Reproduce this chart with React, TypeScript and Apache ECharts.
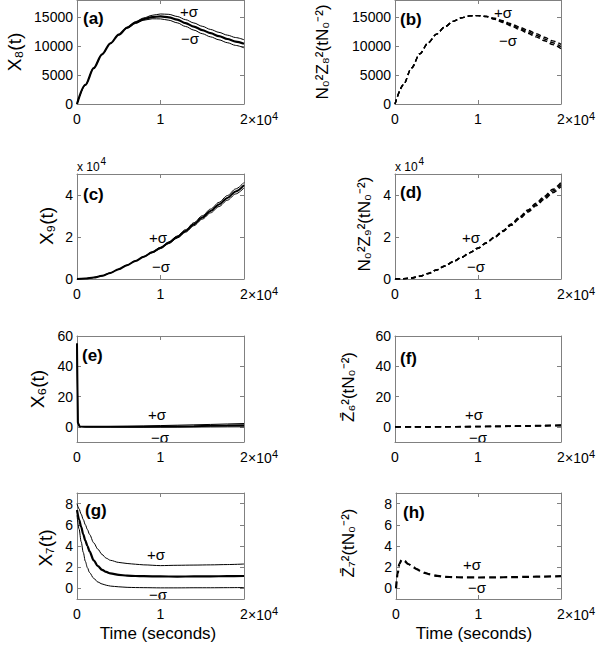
import React, { useEffect, useRef } from "react";
import * as echarts from "echarts";

// ---------- data ----------
const timeTicks = [0, 10000, 20000];
const ticksAB = [0, 5000, 10000, 15000];
const ticksCD = [0, 20000, 40000];
const ticksEF = [0, 20, 40, 60];
const ticksGH = [0, 2, 4, 6, 8];

const tA = [0, 1000, 2000, 3000, 4000, 5000, 6000, 7000, 8000, 9000, 10000, 11000, 12000, 13000, 14000, 15000, 16000, 17000, 18000, 19000, 20000];
const aMean = [0, 3300, 6200, 8600, 10500, 12000, 13200, 14100, 14700, 15050, 15150, 15000, 14600, 14000, 13400, 12800, 12250, 11750, 11250, 10800, 10430];
const aUpper = [0, 3300, 6200, 8600, 10520, 12060, 13300, 14250, 14900, 15350, 15580, 15520, 15150, 14600, 14020, 13450, 12900, 12400, 11920, 11500, 11120];
const aLower = [0, 3300, 6200, 8600, 10480, 11940, 13100, 13950, 14500, 14750, 14730, 14500, 14050, 13420, 12790, 12170, 11620, 11110, 10610, 10140, 9720];

const bMid = [0, 3300, 6250, 8700, 10600, 12100, 13350, 14300, 14900, 15250, 15300, 15150, 14750, 14250, 13700, 13100, 12500, 11900, 11250, 10600, 9950];
const bUpper = [0, 3300, 6250, 8700, 10600, 12100, 13350, 14300, 14900, 15250, 15300, 15180, 14850, 14400, 13880, 13320, 12750, 12180, 11560, 10930, 10320];
const bLower = [0, 3300, 6250, 8700, 10600, 12100, 13350, 14300, 14900, 15250, 15300, 15120, 14650, 14100, 13520, 12880, 12250, 11620, 10940, 10270, 9580];

const cMean = [0, 200, 700, 1500, 2900, 4700, 6600, 8600, 10600, 12700, 14800, 17300, 20000, 22900, 26100, 29300, 32400, 35500, 38600, 41700, 44700];
const cUpper = [0, 200, 700, 1500, 2900, 4700, 6600, 8600, 10700, 12900, 15100, 17700, 20500, 23500, 26800, 30100, 33300, 36500, 39700, 42900, 46000];
const cLower = [0, 200, 700, 1500, 2900, 4700, 6600, 8600, 10500, 12500, 14500, 16900, 19500, 22300, 25400, 28500, 31500, 34500, 37500, 40500, 43400];

const dMid = [0, 100, 500, 1300, 2600, 4300, 6200, 8200, 10300, 12500, 14700, 17200, 19900, 22800, 25900, 29100, 32300, 35500, 38700, 41900, 45000];
const dUpper = [0, 100, 500, 1300, 2600, 4300, 6200, 8200, 10300, 12500, 14700, 17200, 20000, 23000, 26200, 29500, 32800, 36100, 39400, 42700, 46000];
const dLower = [0, 100, 500, 1300, 2600, 4300, 6200, 8200, 10300, 12500, 14700, 17200, 19800, 22600, 25600, 28700, 31800, 34900, 38000, 41100, 44100];

const tE = [0, 100, 300, 1000, 2000, 4000, 6000, 8000, 10000, 12000, 14000, 16000, 18000, 20000];
const eMean = [55, 3, 0.3, 0, 0, 0, 0.05, 0.1, 0.2, 0.3, 0.45, 0.65, 0.85, 1.1];
const eUpper = [55, 3, 0.3, 0.1, 0.15, 0.25, 0.4, 0.6, 0.85, 1.1, 1.35, 1.6, 1.9, 2.2];
const eLower = [55, 3, 0.3, 0, -0.1, -0.15, -0.2, -0.2, -0.2, -0.15, -0.1, -0.05, 0, 0.05];

const tF = [0, 2000, 4000, 6000, 8000, 10000, 12000, 14000, 16000, 18000, 20000];
const fMid = [0, 0, 0, 0.05, 0.1, 0.2, 0.3, 0.45, 0.6, 0.8, 1.0];
const fUpper = [0, 0, 0.05, 0.1, 0.2, 0.3, 0.45, 0.6, 0.8, 1.0, 1.25];
const fLower = [0, 0, -0.05, 0, 0, 0.1, 0.15, 0.3, 0.4, 0.6, 0.75];

const tG = [0, 250, 500, 750, 1000, 1250, 1500, 2000, 2500, 3000, 3500, 4000, 5000, 6000, 7000, 8000, 10000, 12000, 14000, 16000, 18000, 20000];
const gUpper = [8.0, 7.5, 7.0, 6.5, 6.0, 5.55, 5.1, 4.3, 3.7, 3.2, 2.85, 2.65, 2.45, 2.35, 2.28, 2.22, 2.15, 2.18, 2.2, 2.22, 2.25, 2.3];
const gMean = [7.4, 6.5, 5.8, 5.1, 4.5, 4.0, 3.5, 2.65, 2.1, 1.75, 1.55, 1.42, 1.28, 1.2, 1.17, 1.15, 1.13, 1.12, 1.13, 1.14, 1.15, 1.17];
const gLower = [6.9, 5.6, 4.4, 3.4, 2.55, 1.95, 1.5, 0.95, 0.6, 0.42, 0.3, 0.22, 0.15, 0.1, 0.08, 0.07, 0.05, 0.05, 0.06, 0.06, 0.07, 0.08];

const tH = [0, 200, 400, 700, 1000, 1500, 2000, 2500, 3000, 3500, 4000, 5000, 6000, 7000, 8000, 10000, 12000, 14000, 16000, 18000, 20000];
const hMid = [0, 1.4, 2.3, 2.7, 2.6, 2.3, 2.05, 1.82, 1.62, 1.46, 1.34, 1.18, 1.09, 1.06, 1.04, 1.03, 1.04, 1.06, 1.09, 1.12, 1.15];

const yLabels = ["X₈(t)", "N₀²Z₈²(tN₀⁻²)", "X₉(t)", "N₀²Z₉²(tN₀⁻²)", "X₆(t)", "Z̄₆²(tN₀⁻²)", "X₇(t)", "Z̄₇²(tN₀⁻²)"];
const panelTags = ["(a)", "(b)", "(c)", "(d)", "(e)", "(f)", "(g)", "(h)"];
const xTitle = "Time (seconds)";

// ---------- layout ----------
const FONT = '"Liberation Sans", Arial, Helvetica, sans-serif';
const BOX = "#808080";

type Line = { t: number[]; v: number[]; w: number; dash?: number[] };
type Panel = {
  g: { left: number; top: number; width: number; height: number };
  yMin: number; yMax: number; yTicks: number[]; yFmt: (v: number) => string;
  lines: Line[];
  smooth: boolean;
  yLab: { x: number; y: number; size: number };
  tag: { x: number; y: number };
  plus: [number, number]; minus: [number, number];
  sci?: boolean;
};

const plain = (v: number) => String(v);
const e4 = (v: number) => String(v / 10000);
const D1 = [5, 3];
const D2 = [6, 4];

const panels: Panel[] = [
  { g: { left: 77, top: 0, width: 167, height: 104 }, yMin: 0, yMax: 18000, yTicks: ticksAB, yFmt: plain, smooth: true,
    lines: [{ t: tA, v: aUpper, w: 1 }, { t: tA, v: aLower, w: 1 }, { t: tA, v: aMean, w: 2.2 }],
    yLab: { x: 14, y: 52, size: 19 }, tag: { x: 83, y: 18 }, plus: [189, 11], minus: [190, 38] },
  { g: { left: 395, top: 0, width: 166, height: 104 }, yMin: 0, yMax: 18000, yTicks: ticksAB, yFmt: plain, smooth: true,
    lines: [{ t: tA, v: bUpper, w: 1.4, dash: D1 }, { t: tA, v: bLower, w: 1.4, dash: D1 }, { t: tA, v: bMid, w: 1.4, dash: D1 }],
    yLab: { x: 322, y: 52, size: 17 }, tag: { x: 400, y: 19 }, plus: [503, 12], minus: [508, 40] },
  { g: { left: 77, top: 174, width: 167, height: 105 }, yMin: 0, yMax: 50000, yTicks: ticksCD, yFmt: e4, smooth: true, sci: true,
    lines: [{ t: tA, v: cUpper, w: 1 }, { t: tA, v: cLower, w: 1 }, { t: tA, v: cMean, w: 2 }],
    yLab: { x: 46, y: 226, size: 19 }, tag: { x: 83, y: 194 }, plus: [158, 237], minus: [161, 266] },
  { g: { left: 395, top: 174, width: 166, height: 105 }, yMin: 0, yMax: 50000, yTicks: ticksCD, yFmt: e4, smooth: true, sci: true,
    lines: [{ t: tA, v: dUpper, w: 1.5, dash: D1 }, { t: tA, v: dLower, w: 1.5, dash: D1 }, { t: tA, v: dMid, w: 1.6, dash: D1 }],
    yLab: { x: 364, y: 224, size: 17 }, tag: { x: 400, y: 192 }, plus: [471, 237], minus: [476, 266] },
  { g: { left: 77, top: 336, width: 167, height: 106 }, yMin: -10, yMax: 60, yTicks: ticksEF, yFmt: plain, smooth: false,
    lines: [{ t: tE, v: eUpper, w: 1 }, { t: tE, v: eLower, w: 1 }, { t: tE, v: eMean, w: 2 }],
    yLab: { x: 37, y: 389, size: 19 }, tag: { x: 82, y: 355 }, plus: [157, 414], minus: [160, 437] },
  { g: { left: 395, top: 336, width: 166, height: 106 }, yMin: -10, yMax: 60, yTicks: ticksEF, yFmt: plain, smooth: true,
    lines: [{ t: tF, v: fUpper, w: 1.4, dash: D2 }, { t: tF, v: fLower, w: 1.4, dash: D2 }, { t: tF, v: fMid, w: 1.6, dash: D2 }],
    yLab: { x: 348, y: 387, size: 17 }, tag: { x: 400, y: 358 }, plus: [474, 414], minus: [478, 437] },
  { g: { left: 77, top: 493, width: 167, height: 106 }, yMin: -1, yMax: 9, yTicks: ticksGH, yFmt: plain, smooth: true,
    lines: [{ t: tG, v: gUpper, w: 1 }, { t: tG, v: gLower, w: 1 }, { t: tG, v: gMean, w: 2.2 }],
    yLab: { x: 45, y: 548, size: 19 }, tag: { x: 85, y: 510 }, plus: [156, 554], minus: [158, 594] },
  { g: { left: 396, top: 493, width: 165, height: 106 }, yMin: -1, yMax: 9, yTicks: ticksGH, yFmt: plain, smooth: true,
    lines: [{ t: tH, v: hMid, w: 2.2, dash: [7, 4] }],
    yLab: { x: 348, y: 543, size: 17 }, tag: { x: 403, y: 512 }, plus: [472, 564], minus: [477, 587] },
];

function buildOption() {
  const grid: any[] = [];
  const xAxis: any[] = [];
  const yAxis: any[] = [];
  const series: any[] = [];
  const elements: any[] = [];
  const txt = (x: number, y: number, text: string, size: number, extra: any = {}) => ({
    type: "text", x, y, silent: true, rotation: extra.rotation || 0,
    style: {
      text, fill: "#000", fontSize: size, fontFamily: FONT, fontWeight: extra.bold ? "bold" : "normal",
      align: extra.align || "center", verticalAlign: "middle",
    },
  });

  panels.forEach((p, i) => {
    grid.push({ ...p.g, show: false, containLabel: false, outerBoundsMode: "none" });
    const axLine = { show: true, onZero: false, lineStyle: { color: BOX, width: 1 } };
    const tick = (vals: number[]) => ({ show: true, inside: true, length: 4, customValues: vals, lineStyle: { color: BOX, width: 1 } });
    xAxis.push({
      type: "value", gridIndex: i, position: "bottom", min: 0, max: 20000, splitLine: { show: false },
      axisLine: axLine, axisTick: tick(timeTicks),
      axisLabel: { show: true, customValues: timeTicks, margin: 8, color: "#000", fontSize: 14, fontFamily: FONT, formatter: (v: number) => String(v / 10000) },
    });
    xAxis.push({
      type: "value", gridIndex: i, position: "top", min: 0, max: 20000, splitLine: { show: false },
      axisLine: axLine, axisTick: tick(timeTicks), axisLabel: { show: false },
    });
    yAxis.push({
      type: "value", gridIndex: i, position: "left", min: p.yMin, max: p.yMax, splitLine: { show: false },
      axisLine: axLine, axisTick: tick(p.yTicks),
      axisLabel: { show: true, customValues: p.yTicks, margin: 4, color: "#000", fontSize: 14, fontFamily: FONT, formatter: p.yFmt },
    });
    yAxis.push({
      type: "value", gridIndex: i, position: "right", min: p.yMin, max: p.yMax, splitLine: { show: false },
      axisLine: axLine, axisTick: tick(p.yTicks), axisLabel: { show: false },
    });
    p.lines.forEach((l) => {
      series.push({
        type: "line", xAxisIndex: 2 * i, yAxisIndex: 2 * i, symbol: "none", showSymbol: false,
        smooth: p.smooth ? 0.3 : false, smoothMonotone: "x", silent: true,
        lineStyle: { color: "#000", width: l.w, type: l.dash ? l.dash : "solid" },
        data: l.t.map((t, k) => [t, l.v[k]]),
      });
    });
    // labels
    const right = p.g.left + p.g.width;
    const bottom = p.g.top + p.g.height;
    elements.push(txt(right + 4, bottom + 15.5, "×10", 14, { align: "left" }));
    elements.push(txt(right + 28, bottom + 11.5, "4", 11, { align: "left" }));
    elements.push(txt(p.yLab.x, p.yLab.y, yLabels[i], p.yLab.size, { rotation: Math.PI / 2 }));
    elements.push(txt(p.tag.x, p.tag.y, panelTags[i], 17, { bold: true, align: "left" }));
    elements.push(txt(p.plus[0], p.plus[1], "+σ", 15));
    elements.push(txt(p.minus[0], p.minus[1], "−σ", 15));
    if (p.sci) {
      elements.push(txt(p.g.left, p.g.top - 7, "x 10", 12, { align: "left" }));
      elements.push(txt(p.g.left + 23.5, p.g.top - 13, "4", 10, { align: "left" }));
    }
  });
  elements.push(txt(158, 633, xTitle, 17));
  elements.push(txt(474, 633, xTitle, 17));

  return {
    animation: false,
    backgroundColor: "#fff",
    grid, xAxis, yAxis, series,
    graphic: { elements },
  };
}

export default function App() {
  const ref = useRef<HTMLDivElement>(null);
  useEffect(() => {
    if (!ref.current) return;
    const chart = echarts.init(ref.current, null, { renderer: "svg" });
    chart.setOption(buildOption() as any);
    return () => chart.dispose();
  }, []);
  return (
    <div
      ref={ref}
      style={{ position: "absolute", left: 0, top: 0, width: 600, height: 647, background: "#fff" }}
    />
  );
}
